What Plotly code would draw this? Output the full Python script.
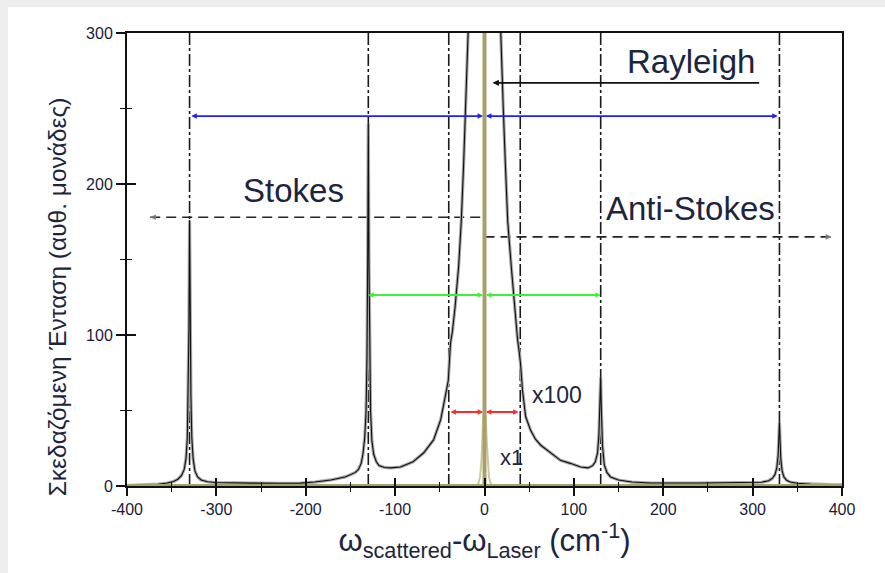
import plotly.graph_objects as go

# ---------------------------------------------------------------------------
# Raman spectrum, scaled x100: Stokes (-330, -130), anti-Stokes (+130, +330)
# and the wings of the Rayleigh line (off scale between -16 and +16)
# ---------------------------------------------------------------------------
shift_x100 = [
    -400, -380, -365, -355, -348, -343, -339, -336, -334, -332.5, -331.5, -330.7,
    -330, -329.3, -328.5, -327.5, -326, -324, -321, -317, -310, -301, -280, -262,
    -230, -206, -190, -172, -156, -150, -144.5, -141, -138, -136, -134, -132.5,
    -131.5, -130.7, -130, -129.3, -128.5, -127.5, -126, -124, -121, -118, -112,
    -105, -94, -80, -68, -57, -49, -45, -42.5, -40.5, -39.5, -38, -36, -33, -29,
    -26, -23.5, -21, -18, -16,
    None,
    16, 18, 21, 23.5, 26, 30, 34, 37, 39, 40.3, 42.5, 46, 51.5, 57, 63, 74, 85,
    96, 107.5, 116, 121, 124, 126.5, 128, 129.3, 130, 130.7, 132, 134, 137, 141,
    150, 165, 186, 240, 298, 310, 318, 322, 325, 327, 328.5, 329.4, 330, 330.6,
    331.5, 333, 335, 338, 342, 350, 365, 385, 400,
]
intensity_x100 = [
    0.3, 0.6, 1.2, 2, 3, 4.5, 7, 11, 18, 32, 60, 105,
    176, 105, 60, 32, 18, 10, 6, 4, 2.8, 2.3, 2.0, 1.9,
    1.8, 1.9, 2.6, 4, 6, 7.5, 9, 11, 15, 21, 32, 50,
    85, 150, 240, 150, 85, 50, 30, 21, 16, 13.5, 12.3,
    12, 12.6, 16, 22, 30.5, 44, 55, 63.6, 70, 84, 95, 102, 118, 145,
    175, 211, 250, 300, 340,
    None,
    340, 300, 250, 211, 175, 145, 115, 97, 88, 81, 63.6, 46, 37, 31, 27, 22, 17,
    15, 12.6, 12, 13.5, 16, 22, 34, 52, 72, 52, 27, 14, 9, 6,
    4, 2.6, 2, 2, 2, 2.5, 3.5, 5, 7.5, 12, 20, 32, 42, 32,
    18, 10, 6, 3.8, 2.6, 1.8, 1.2, 0.9, 0.8,
]

# Rayleigh line on the x1 scale (laser line and its base)
rayleigh_x = [-400, 0, 0, 0, 400]
rayleigh_y = [0, 0, 400, 0, 0]
rayleigh_base_x = [-10, -7, -5, -3.5, -2.5, -1.5, 0, 1.5, 2.5, 3.5, 5, 7, 10]
rayleigh_base_y = [0, 1.5, 6, 16, 30, 45, 52, 45, 30, 16, 6, 1.5, 0]

# Raman line positions (cm^-1) marked with dash-dot verticals
line_positions = [-330, -130, -40, 40, 130, 330]

# Double-headed separation arrows: (half-width, height, colour)
separations = [(328, 245, "#1f1fff"), (130, 126.5, "#3cf03c"), (38, 49, "#ff2a2a")]

# Reference levels for the Stokes / anti-Stokes intensities
stokes_level = dict(x=[-374, 0], y=[178, 178])
anti_stokes_level = dict(x=[0, 388], y=[165, 165])
rayleigh_pointer = dict(x=[309, 9], y=[267, 267])

# axis ticks
x_ticks = [-400, -300, -200, -100, 0, 100, 200, 300, 400]
x_tick_text = ["-400", "-300", "-200", "-100", "0", "100", "200", "300", "400"]
y_ticks = [0, 100, 200, 300]
y_tick_text = ["0", "100", "200", "300"]

x_range = [-400, 400]
y_range = [0, 300]

TXT = "#1c2540"
FONT = "Liberation Sans, Arial, sans-serif"

fig = go.Figure()

for xv in line_positions:
    fig.add_trace(go.Scatter(
        x=[xv, xv], y=y_range, mode="lines",
        line=dict(color="#1a1a1a", width=1.6, dash="12px,3px,3px,3px"),
        hoverinfo="skip", showlegend=False))

fig.add_trace(go.Scatter(
    x=stokes_level["x"], y=stokes_level["y"], mode="lines",
    line=dict(color="#222222", width=1.6, dash="10px,6px"),
    showlegend=False))
fig.add_trace(go.Scatter(
    x=anti_stokes_level["x"], y=anti_stokes_level["y"], mode="lines",
    line=dict(color="#222222", width=1.6, dash="10px,6px"),
    showlegend=False))

# spectrum drawn as a grey halo with a black core
fig.add_trace(go.Scatter(
    x=shift_x100, y=intensity_x100, mode="lines",
    line=dict(color="#a8a8a8", width=3.2), showlegend=False))
fig.add_trace(go.Scatter(
    x=shift_x100, y=intensity_x100, mode="lines",
    line=dict(color="#111111", width=1.1), showlegend=False))

fig.add_trace(go.Scatter(
    x=rayleigh_base_x, y=rayleigh_base_y, mode="lines",
    line=dict(color="rgba(196,190,140,0.85)", width=2), showlegend=False))
fig.add_trace(go.Scatter(
    x=rayleigh_x, y=rayleigh_y, mode="lines",
    line=dict(color="#a7a06a", width=4), showlegend=False))

annotations = []
for half, level, color in separations:
    for sign in (-1, 1):
        annotations.append(dict(
            x=sign * half, y=level, ax=0, ay=level, xref="x", yref="y",
            axref="x", ayref="y", text="", showarrow=True,
            arrowhead=2, startarrowhead=2, arrowside="end+start",
            arrowsize=0.6, startarrowsize=0.6, arrowwidth=1.8,
            arrowcolor=color, standoff=0, startstandoff=0))

# arrowheads on the dashed reference levels
annotations.append(dict(
    x=stokes_level["x"][0], y=stokes_level["y"][0],
    ax=stokes_level["x"][0] + 8, ay=stokes_level["y"][0],
    xref="x", yref="y", axref="x", ayref="y", text="", showarrow=True,
    arrowhead=2, arrowsize=0.7, arrowwidth=1.6, arrowcolor="#777777"))
annotations.append(dict(
    x=anti_stokes_level["x"][1], y=anti_stokes_level["y"][1],
    ax=anti_stokes_level["x"][1] - 8, ay=anti_stokes_level["y"][1],
    xref="x", yref="y", axref="x", ayref="y", text="", showarrow=True,
    arrowhead=2, arrowsize=0.7, arrowwidth=1.6, arrowcolor="#777777"))
annotations.append(dict(
    x=rayleigh_pointer["x"][1], y=rayleigh_pointer["y"][1],
    ax=rayleigh_pointer["x"][0], ay=rayleigh_pointer["y"][0],
    xref="x", yref="y", axref="x", ayref="y", text="", showarrow=True,
    arrowhead=2, arrowsize=0.8, arrowwidth=1.6, arrowcolor="#111111",
    standoff=0))

labels = [
    ("Rayleigh", 231, 281, 33, "center"),
    ("Stokes", -214, 196, 33, "center"),
    ("Anti-Stokes", 231, 184, 33, "center"),
    ("x100", 51, 60, 23, "left"),
    ("x1", 15, 19, 22, "left"),
]
for text, xv, yv, size, anchor in labels:
    annotations.append(dict(
        x=xv, y=yv, xref="x", yref="y", text=text, showarrow=False,
        xanchor=anchor, yanchor="middle",
        font=dict(family=FONT, size=size, color=TXT)))

# vertical axis title, set a little below the middle of the axis
annotations.append(dict(
    x=-0.097, y=0.418, xref="paper", yref="paper", textangle=-90,
    text="Σκεδαζόμενη Ένταση (αυθ. μονάδες)", showarrow=False,
    xanchor="center", yanchor="middle",
    font=dict(family=FONT, size=24.5, color=TXT)))

tick_font = dict(family=FONT, size=16, color="#1a1a3a")

fig.update_layout(
    width=885, height=573,
    margin=dict(l=127, r=43, t=33, b=87),
    paper_bgcolor="#eeeeee",
    plot_bgcolor="rgba(0,0,0,0)",
    annotations=annotations,
    shapes=[dict(type="rect", xref="paper", yref="paper",
                 x0=-0.1664, x1=1.07, y0=-0.2, y1=1.0574,
                 fillcolor="white", line=dict(width=0), layer="below")],
    xaxis=dict(
        range=x_range, showgrid=False, zeroline=False,
        showline=True, linecolor="#111111", linewidth=2, mirror=True,
        ticks="outside", tickvals=x_ticks, ticktext=x_tick_text,
        ticklen=8, tickwidth=1.6, tickcolor="#111111",
        minor=dict(ticks="outside", dtick=50, tick0=0, ticklen=4,
                   tickwidth=1.4, tickcolor="#111111"),
        tickfont=tick_font,
        title=dict(text="ω<sub>scattered</sub>-ω<sub>Laser</sub> (cm<sup>-1</sup>)",
                   font=dict(family=FONT, size=31, color=TXT), standoff=4),
    ),
    xaxis2=dict(
        range=x_range, overlaying="x", anchor="y", side="bottom",
        showgrid=False, zeroline=False, showline=False, showticklabels=False,
        ticks="inside", tickvals=x_ticks,
        ticklen=8, tickwidth=1.6, tickcolor="#111111",
        minor=dict(ticks="inside", dtick=50, tick0=0, ticklen=4,
                   tickwidth=1.4, tickcolor="#111111"),
    ),
    yaxis=dict(
        range=y_range, showgrid=False, zeroline=False,
        showline=True, linecolor="#111111", linewidth=2, mirror=True,
        ticks="outside", tickvals=y_ticks, ticktext=y_tick_text,
        ticklen=9, tickwidth=1.6, tickcolor="#111111",
        minor=dict(ticks="outside", dtick=50, tick0=0, ticklen=5,
                   tickwidth=1.4, tickcolor="#111111"),
        tickfont=tick_font,
    ),
    yaxis2=dict(
        range=y_range, overlaying="y", anchor="x", side="left",
        showgrid=False, zeroline=False, showline=False, showticklabels=False,
        ticks="inside", tickvals=y_ticks,
        ticklen=9, tickwidth=1.6, tickcolor="#111111",
        minor=dict(ticks="inside", dtick=50, tick0=0, ticklen=5,
                   tickwidth=1.4, tickcolor="#111111"),
    ),
)

# invisible carrier so the overlay axes with inside ticks are drawn
fig.add_trace(go.Scatter(x=[None], y=[None], xaxis="x2", yaxis="y2",
                         showlegend=False, hoverinfo="skip"))

fig.write_html("out.html")
